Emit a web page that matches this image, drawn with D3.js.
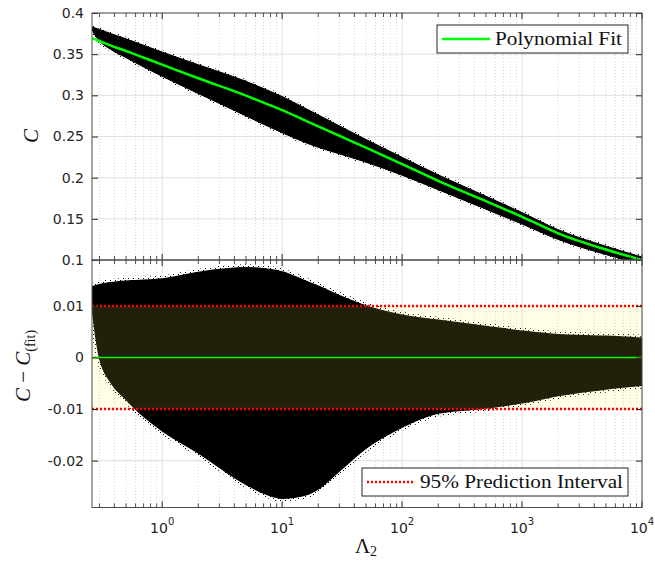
<!DOCTYPE html>
<html lang="en">
<head>
    <meta charset="UTF-8">
    <title>C vs Lambda2</title>
    <script src="https://d3js.org/d3.v7.min.js"></script>
    <style>
        body { margin: 0; background: #fff; }
    </style>
</head>
<body>

<svg id="main" width="655" height="561"></svg>
<script>

    // values
    const lambda2 = [0.26, 0.28, 0.3, 0.37, 0.5, 0.6, 1, 2, 5, 7, 10, 15, 20, 30, 50, 100, 200, 500, 1000, 2000, 5000, 10000];
    const fitC = [0.3693, 0.3676, 0.3660, 0.3607, 0.3538, 0.3495, 0.3373, 0.3207, 0.2996, 0.2911, 0.2820, 0.2705, 0.2624, 0.2509, 0.2364, 0.2165, 0.1962, 0.1715, 0.1525, 0.1324, 0.1127, 0.1000];
    const cUpper = [0.3830, 0.3815, 0.3801, 0.3752, 0.3686, 0.3644, 0.3525, 0.3372, 0.3170, 0.3083, 0.2986, 0.2855, 0.2762, 0.2629, 0.2464, 0.2247, 0.2034, 0.1775, 0.1576, 0.1368, 0.1168, 0.1037];
    const cLower = [0.3793, 0.3716, 0.3660, 0.3560, 0.3457, 0.3395, 0.3231, 0.3022, 0.2750, 0.2648, 0.2547, 0.2437, 0.2369, 0.2289, 0.2188, 0.2030, 0.1854, 0.1617, 0.1437, 0.1250, 0.1066, 0.0946];
    const residUpper = [0.0137, 0.0139, 0.0141, 0.0145, 0.0148, 0.0149, 0.0152, 0.0165, 0.0174, 0.0172, 0.0166, 0.0150, 0.0138, 0.0120, 0.0100, 0.0082, 0.0072, 0.0060, 0.0051, 0.0044, 0.0041, 0.0037];
    const residLower = [0.0100, 0.0040, 0.0000, -0.0047, -0.0081, -0.0100, -0.0142, -0.0185, -0.0246, -0.0263, -0.0273, -0.0268, -0.0255, -0.0220, -0.0176, -0.0135, -0.0108, -0.0098, -0.0088, -0.0074, -0.0061, -0.0054];
    const predInterval = [-0.01, 0.01];

    const topTicks = [0.1, 0.15, 0.2, 0.25, 0.3, 0.35, 0.4];
    const topTickLabels = ['0.1', '0.15', '0.2', '0.25', '0.3', '0.35', '0.4'];
    const botTicks = [-0.02, -0.01, 0, 0.01];
    const botTickLabels = ['-0.02', '-0.01', '0', '0.01'];
    const xDecades = [1, 10, 100, 1000, 10000];
    const xExponents = ['0', '1', '2', '3', '4'];

    const rows = lambda2.map((l, i) => ({
        l: l, fit: fitC[i], up: cUpper[i], lo: cLower[i], rUp: residUpper[i], rLo: residLower[i]
    }));

    const svg = d3.select('svg#main');
    const axisCol = '#262626';
    const left = 92, right = 642;

    let x = d3.scaleLog().domain([0.26, 10000]).range([left, right]);
    let yTop = d3.scaleLinear().domain([0.1, 0.4]).range([260, 13]);
    let yBot = d3.scaleLinear().domain([-0.0291, 0.0189]).range([507.5, 260]);

    let minorX = [];
    for (let d = -1; d < 4; d++) {
        for (let k = 2; k <= 9; k++) {
            let v = k * Math.pow(10, d);
            if (v > 0.26 && v < 10000) minorX.push(+v.toPrecision(3));
        }
    }

    // clip paths for both panels + a sparse dot pattern for the fuzzy scatter edge
    let defs = svg.append('defs');
    defs.append('clipPath').attr('id', 'clipTop').append('rect')
        .attr('x', left).attr('y', 13).attr('width', right - left).attr('height', 247);
    defs.append('clipPath').attr('id', 'clipBot').append('rect')
        .attr('x', left).attr('y', 260).attr('width', right - left).attr('height', 247.5);
    let pat = defs.append('pattern').attr('id', 'dots').attr('patternUnits', 'userSpaceOnUse')
        .attr('width', 5).attr('height', 4);
    pat.append('rect').attr('x', 0).attr('y', 0).attr('width', 1).attr('height', 1).attr('fill', '#000');
    pat.append('rect').attr('x', 3).attr('y', 2).attr('width', 1).attr('height', 1).attr('fill', '#000');

    function drawGrid(g, y, yVals) {
        g.selectAll('.minor').data(minorX).enter().append('line')
            .attr('x1', d => x(d)).attr('x2', d => x(d))
            .attr('y1', y.range()[1]).attr('y2', y.range()[0])
            .attr('stroke', '#cdcdcd').attr('stroke-width', 0.8)
            .attr('stroke-dasharray', '1,2');
        g.selectAll('.major').data(xDecades).enter().append('line')
            .attr('x1', d => x(d)).attr('x2', d => x(d))
            .attr('y1', y.range()[1]).attr('y2', y.range()[0])
            .attr('stroke', '#e0e0e0').attr('stroke-width', 1);
        g.selectAll('.hgrid').data(yVals).enter().append('line')
            .attr('x1', left).attr('x2', right)
            .attr('y1', d => y(d)).attr('y2', d => y(d))
            .attr('stroke', '#e0e0e0').attr('stroke-width', 1);
    }

    function drawFrame(g, y, ticks, labels, showX) {
        // y ticks, left and right, inside
        g.append('g').attr('transform', `translate(${left},0)`)
            .call(d3.axisLeft(y).tickValues(ticks).tickSize(-6).tickPadding(8)
                .tickFormat((d, i) => labels[i]))
            .call(a => a.select('.domain').remove())
            .call(a => a.selectAll('line').attr('stroke', axisCol))
            .call(a => a.selectAll('text').attr('fill', axisCol)
                .style('font-family', '"DejaVu Sans", sans-serif').style('font-size', '14px'));
        g.append('g').attr('transform', `translate(${right},0)`)
            .call(d3.axisRight(y).tickValues(ticks).tickSize(-6).tickFormat(''))
            .call(a => a.select('.domain').remove())
            .call(a => a.selectAll('line').attr('stroke', axisCol));

        let y0 = y.range()[0], y1 = y.range()[1];
        // x ticks on bottom and top edges, inside
        [[y0, -1], [y1, 1]].forEach(([yy, dir]) => {
            g.selectAll(null).data(xDecades).enter().append('line')
                .attr('x1', d => x(d)).attr('x2', d => x(d))
                .attr('y1', yy).attr('y2', yy + dir * 6)
                .attr('stroke', axisCol);
            g.selectAll(null).data(minorX).enter().append('line')
                .attr('x1', d => x(d)).attr('x2', d => x(d))
                .attr('y1', yy).attr('y2', yy + dir * 4)
                .attr('stroke', axisCol).attr('stroke-width', 0.8);
        });

        g.append('rect').attr('x', left).attr('y', y1)
            .attr('width', right - left).attr('height', y0 - y1)
            .attr('fill', 'none').attr('stroke', '#4d4d4d').attr('stroke-width', 1);

        if (showX) {
            let lab = g.selectAll('.xlab').data(xDecades).enter().append('text')
                .attr('x', d => x(d)).attr('y', 533)
                .attr('text-anchor', 'middle').attr('fill', axisCol)
                .style('font-family', '"DejaVu Sans", sans-serif').style('font-size', '14px');
            lab.append('tspan').text('10');
            lab.append('tspan').attr('dy', -8).style('font-size', '10px')
                .text((d, i) => xExponents[i]);
        }
    }

    // ---------- top panel ----------
    let gTop = svg.append('g');
    drawGrid(gTop, yTop, topTicks);

    let bandTop = d3.area().curve(d3.curveMonotoneX)
        .x(d => x(d.l)).y0(d => yTop(d.lo)).y1(d => yTop(d.up));
    gTop.append('path').datum(rows).attr('clip-path', 'url(#clipTop)')
        .attr('d', bandTop).attr('fill', 'none')
        .attr('stroke', 'url(#dots)').attr('stroke-width', 4);
    gTop.append('path').datum(rows).attr('clip-path', 'url(#clipTop)')
        .attr('d', bandTop).attr('fill', '#000')
        .attr('stroke', '#000').attr('stroke-width', 1);

    let fitLine = d3.line().curve(d3.curveMonotoneX)
        .x(d => x(d.l)).y(d => yTop(d.fit));
    gTop.append('path').datum(rows).attr('clip-path', 'url(#clipTop)')
        .attr('d', fitLine).attr('fill', 'none')
        .attr('stroke', '#00ff00').attr('stroke-width', 2.5);

    drawFrame(gTop, yTop, topTicks, topTickLabels, false);

    // ---------- bottom panel ----------
    let gBot = svg.append('g');
    drawGrid(gBot, yBot, botTicks);

    let bandRes = d3.area().curve(d3.curveMonotoneX)
        .x(d => x(d.l)).y0(d => yBot(d.rLo)).y1(d => yBot(d.rUp));
    gBot.append('path').datum(rows).attr('clip-path', 'url(#clipBot)')
        .attr('d', bandRes).attr('fill', 'none')
        .attr('stroke', 'url(#dots)').attr('stroke-width', 7);
    gBot.append('path').datum(rows).attr('clip-path', 'url(#clipBot)')
        .attr('d', bandRes).attr('fill', '#000')
        .attr('stroke', '#000').attr('stroke-width', 1.5);

    // translucent prediction band drawn over the points
    gBot.append('rect')
        .attr('x', left).attr('width', right - left)
        .attr('y', yBot(predInterval[1])).attr('height', yBot(predInterval[0]) - yBot(predInterval[1]))
        .attr('fill', 'rgb(255,234,75)').attr('fill-opacity', 0.135);

    gBot.selectAll('.pi').data(predInterval).enter().append('line')
        .attr('x1', left).attr('x2', right)
        .attr('y1', d => yBot(d)).attr('y2', d => yBot(d))
        .attr('stroke', '#ff0000').attr('stroke-width', 2.5)
        .attr('stroke-dasharray', '2,2');

    gBot.append('line')
        .attr('x1', left).attr('x2', right)
        .attr('y1', yBot(0)).attr('y2', yBot(0))
        .attr('stroke', '#00ff00').attr('stroke-width', 1.5);

    drawFrame(gBot, yBot, botTicks, botTickLabels, true);

    // ---------- legends ----------
    function legend(x0, y0, w, h, text, textW, styleLine) {
        let g = svg.append('g');
        g.append('rect').attr('x', x0).attr('y', y0).attr('width', w).attr('height', h)
            .attr('fill', '#fff').attr('stroke', axisCol).attr('stroke-width', 1);
        let ln = g.append('line').attr('x1', x0 + 5).attr('x2', x0 + 53)
            .attr('y1', y0 + h / 2).attr('y2', y0 + h / 2);
        styleLine(ln);
        g.append('text').attr('x', x0 + 58).attr('y', y0 + h / 2 + 6)
            .attr('textLength', textW).attr('lengthAdjust', 'spacingAndGlyphs')
            .style('font-family', '"Liberation Serif", serif').style('font-size', '18px')
            .attr('fill', '#111').text(text);
    }
    legend(437, 25, 191, 28, 'Polynomial Fit', 127,
        l => l.attr('stroke', '#00ff00').attr('stroke-width', 2.5));
    legend(362, 468, 266, 28, '95% Prediction Interval', 203,
        l => l.attr('stroke', '#ff0000').attr('stroke-width', 2.5).attr('stroke-dasharray', '2,2'));

    // ---------- axis labels ----------
    const serif = '"Liberation Serif", serif';
    svg.append('text').attr('transform', 'translate(38,136) rotate(-90)')
        .attr('text-anchor', 'middle').style('font-family', serif).style('font-size', '21px')
        .style('font-style', 'italic').attr('fill', '#111').text('C');

    let yl = svg.append('text').attr('transform', 'translate(30,366) rotate(-90)')
        .attr('text-anchor', 'middle').style('font-family', serif).style('font-size', '21px')
        .attr('fill', '#111');
    yl.append('tspan').style('font-style', 'italic').text('C');
    yl.append('tspan').text(' \u2212 ');
    yl.append('tspan').style('font-style', 'italic').text('C');
    yl.append('tspan').attr('dy', 5).style('font-size', '14px').text('(fit)');

    let xl = svg.append('text').attr('x', 366).attr('y', 553)
        .attr('text-anchor', 'middle').style('font-family', serif).style('font-size', '21px')
        .attr('fill', '#111');
    xl.append('tspan').text('\u039B');
    xl.append('tspan').attr('dy', 3).style('font-size', '14px').text('2');

</script>
</body>
</html>
